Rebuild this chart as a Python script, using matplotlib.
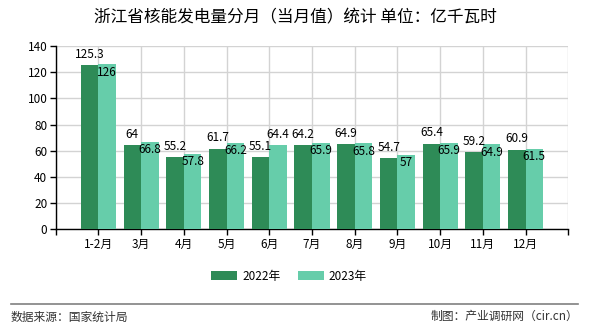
import matplotlib
matplotlib.use("Agg")
import matplotlib.pyplot as plt
import numpy as np

plt.rcParams['font.family'] = ['Noto Sans CJK SC', 'DejaVu Sans']

categories = ["1-2月", "3月", "4月", "5月", "6月", "7月", "8月", "9月", "10月", "11月", "12月"]
values_2022 = [125.3, 64, 55.2, 61.7, 55.1, 64.2, 64.9, 54.7, 65.4, 59.2, 60.9]
values_2023 = [126, 66.8, 57.8, 66.2, 64.4, 65.9, 65.8, 57, 65.9, 64.9, 61.5]
labels_2022 = ["125.3", "64", "55.2", "61.7", "55.1", "64.2", "64.9", "54.7", "65.4", "59.2", "60.9"]
labels_2023 = ["126", "66.8", "57.8", "66.2", "64.4", "65.9", "65.8", "57", "65.9", "64.9", "61.5"]
series_names = ["2022年", "2023年"]
yticks = [0, 20, 40, 60, 80, 100, 120, 140]

# label placement style for 2023 series (True = above bar)
above_2023 = [False, False, False, False, True, False, False, False, False, False, False]

c1 = "#2E8B57"
c2 = "#66CDAA"

fig = plt.figure(figsize=(5.9, 3.3), dpi=100)
ax = fig.add_axes([0.0944, 0.3052, 0.8688, 0.5554])

x = np.arange(len(categories))
w = 0.41
b1 = ax.bar(x - w / 2, values_2022, width=w, color=c1, label=series_names[0], zorder=3)
b2 = ax.bar(x + w / 2, values_2023, width=w, color=c2, label=series_names[1], zorder=3)

for xi, v, s in zip(x, values_2022, labels_2022):
    ax.annotate(s, (xi - w / 2, v), xytext=(0, 3), textcoords="offset points",
                ha="center", va="bottom", fontsize=8.5, zorder=5, color="#000000")
for xi, v, s, up in zip(x, values_2023, labels_2023, above_2023):
    if up:
        ax.annotate(s, (xi + w / 2, v), xytext=(0, 3), textcoords="offset points",
                    ha="center", va="bottom", fontsize=8.5, zorder=5, color="#000000")
    else:
        ax.annotate(s, (xi + w / 2, v), xytext=(0, -1), textcoords="offset points",
                    ha="center", va="top", fontsize=8.5, zorder=5, color="#000000")

ax.set_xlim(-1, len(categories))
ax.set_ylim(0, 140)
ax.set_yticks(yticks)
ax.set_yticklabels([str(t) for t in yticks], fontsize=8.5)
ax.set_xticks(np.arange(-1, len(categories) + 1))
ax.set_xticklabels([""] + categories + [""], fontsize=8.5)
ax.tick_params(axis="both", length=4, width=1, color="#000000", pad=2)
ax.grid(True, color="#d3d3d3", linewidth=1, zorder=0)
for side in ["top", "right"]:
    ax.spines[side].set_visible(False)
for side in ["left", "bottom"]:
    ax.spines[side].set_color("#000000")
    ax.spines[side].set_linewidth(1)

fig.text(0.5, 0.947, "浙江省核能发电量分月（当月值）统计 单位：亿千瓦时",
         ha="center", va="center", fontsize=12)

leg = fig.legend(handles=[b1, b2], labels=series_names, loc="center",
                 bbox_to_anchor=(0.49, 0.163), ncol=2, frameon=False,
                 fontsize=8.5, handlelength=2.2, handleheight=0.7,
                 columnspacing=1.5, handletextpad=0.4)

fig.add_artist(plt.Line2D([0.018, 0.98], [0.08, 0.08], color="#808080", linewidth=1.2))
fig.text(0.018, 0.04, "数据来源：国家统计局", ha="left", va="center", fontsize=8.5, color="#333333")
fig.text(0.98, 0.04, "制图：产业调研网（cir.cn）", ha="right", va="center", fontsize=8.5, color="#333333")

fig.savefig("out.png", dpi=100)
